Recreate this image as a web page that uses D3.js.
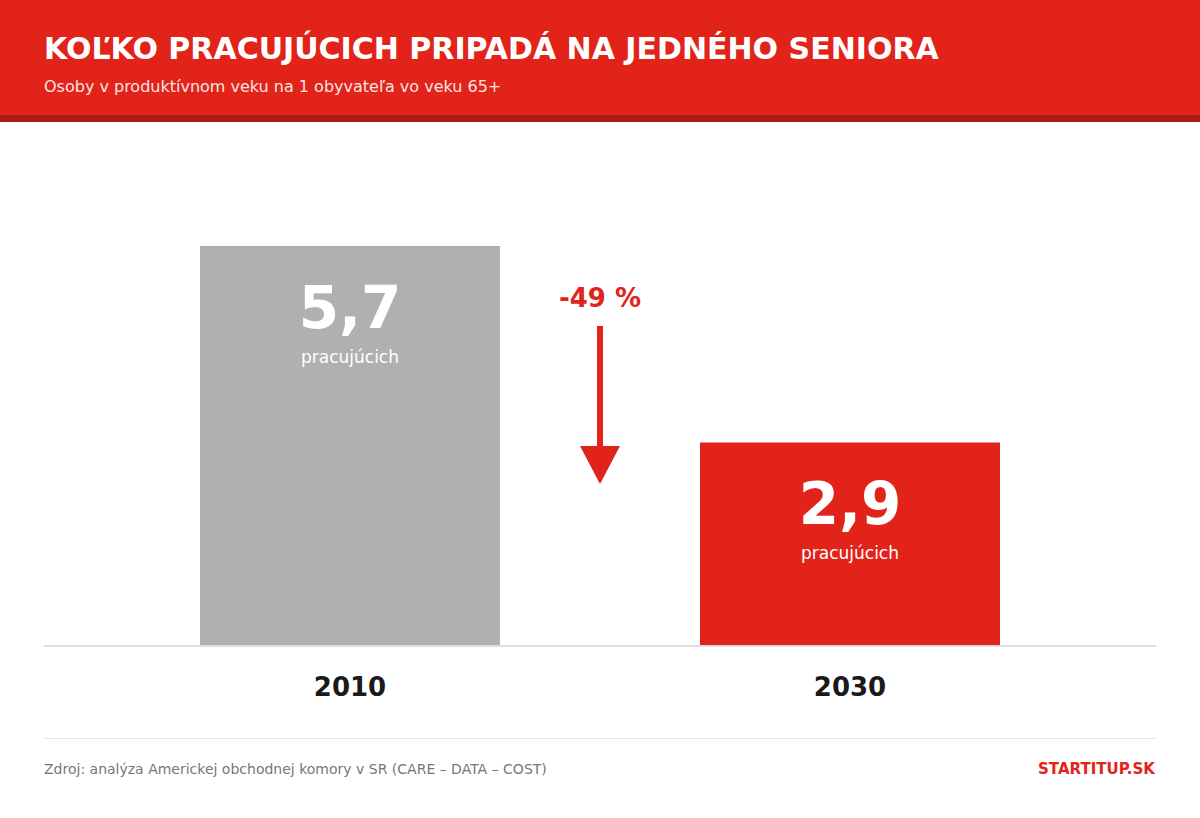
<!DOCTYPE html>
<html>
  <head>
    <meta charset="utf-8">
    <script src="https://cdn.jsdelivr.net/npm/d3@7"></script>
    <style>
      body { margin: 0; background: #fff; }
      svg { display: block; font-family: "DejaVu Sans", sans-serif; }
    </style>
  </head>
  <body>
    <svg id="chart" width="1200" height="818"></svg>
    <script>
      var years = ["2010", "2030"];
      var values = [5.7, 2.9];
      var valueLabels = ["5,7", "2,9"];
      var unitLabel = "pracujúcich";
      var changeLabel = "-49 %";

      var red = "#e2231a";
      var svg = d3.select("#chart");

      // hlavicka
      svg.append("rect").attr("x", 0).attr("y", 0).attr("width", 1200).attr("height", 115).attr("fill", red);
      svg.append("rect").attr("x", 0).attr("y", 115).attr("width", 1200).attr("height", 7).attr("fill", "#a81c17");
      svg.append("text").attr("x", 44).attr("y", 59)
        .attr("fill", "#fff").attr("font-size", 30).attr("font-weight", "bold")
        .text("KOĽKO PRACUJÚCICH PRIPADÁ NA JEDNÉHO SENIORA");
      svg.append("text").attr("x", 44).attr("y", 92)
        .attr("fill", "#fbe3e2").attr("font-size", 16)
        .text("Osoby v produktívnom veku na 1 obyvateľa vo veku 65+");

      var x = d3.scaleBand().domain(years).range([100, 1100]).paddingInner(0.4).paddingOuter(0.2);
      var y = d3.scaleLinear().domain([0, d3.max(values)]).range([646, 246]);

      var data = years.map((yr, i) => ({year: yr, value: values[i], label: valueLabels[i]}));

      var bars = svg.append("g").selectAll("g").data(data).join("g");
      bars.append("rect")
        .attr("x", d => x(d.year))
        .attr("y", d => y(d.value))
        .attr("width", x.bandwidth())
        .attr("height", d => y(0) - y(d.value))
        .attr("fill", (d, i) => i == 0 ? "#b0b0b0" : red);
      bars.append("text")
        .attr("x", d => x(d.year) + x.bandwidth() / 2)
        .attr("y", d => y(d.value) + 82)
        .attr("text-anchor", "middle").attr("fill", "#fff")
        .attr("font-size", 58).attr("font-weight", "bold")
        .text(d => d.label);
      bars.append("text")
        .attr("x", d => x(d.year) + x.bandwidth() / 2)
        .attr("y", d => y(d.value) + 117)
        .attr("text-anchor", "middle").attr("fill", "#fff")
        .attr("font-size", 17)
        .text(unitLabel);

      // os x
      svg.append("line").attr("x1", 44).attr("x2", 1156).attr("y1", 646).attr("y2", 646)
        .attr("stroke", "#dddddd").attr("stroke-width", 2);
      var xAxis = svg.append("g").attr("transform", "translate(0,646)")
        .call(d3.axisBottom(x).tickSize(0).tickPadding(0));
      xAxis.select(".domain").remove();
      xAxis.selectAll("text")
        .attr("y", 50).attr("dy", null)
        .attr("font-family", "DejaVu Sans").attr("font-size", 26).attr("font-weight", "bold")
        .attr("fill", "#1a1a1a");

      // sipka
      var ax = 600;
      svg.append("text").attr("x", ax).attr("y", 307)
        .attr("text-anchor", "middle").attr("fill", red)
        .attr("font-size", 26).attr("font-weight", "bold")
        .text(changeLabel);
      svg.append("line").attr("x1", ax).attr("x2", ax).attr("y1", 326).attr("y2", 448)
        .attr("stroke", red).attr("stroke-width", 6);
      svg.append("path")
        .attr("d", `M${ax - 20},446 L${ax + 20},446 L${ax},484 Z`)
        .attr("fill", red);

      // paticka
      svg.append("line").attr("x1", 44).attr("x2", 1156).attr("y1", 738.5).attr("y2", 738.5)
        .attr("stroke", "#e3e3e3").attr("stroke-width", 1);
      svg.append("text").attr("x", 44).attr("y", 774)
        .attr("fill", "#777").attr("font-size", 14)
        .text("Zdroj: analýza Americkej obchodnej komory v SR (CARE – DATA – COST)");
      svg.append("text").attr("x", 1155).attr("y", 774)
        .attr("text-anchor", "end").attr("fill", red)
        .attr("font-size", 15).attr("font-weight", "bold")
        .text("STARTITUP.SK");
    </script>
  </body>
</html>
